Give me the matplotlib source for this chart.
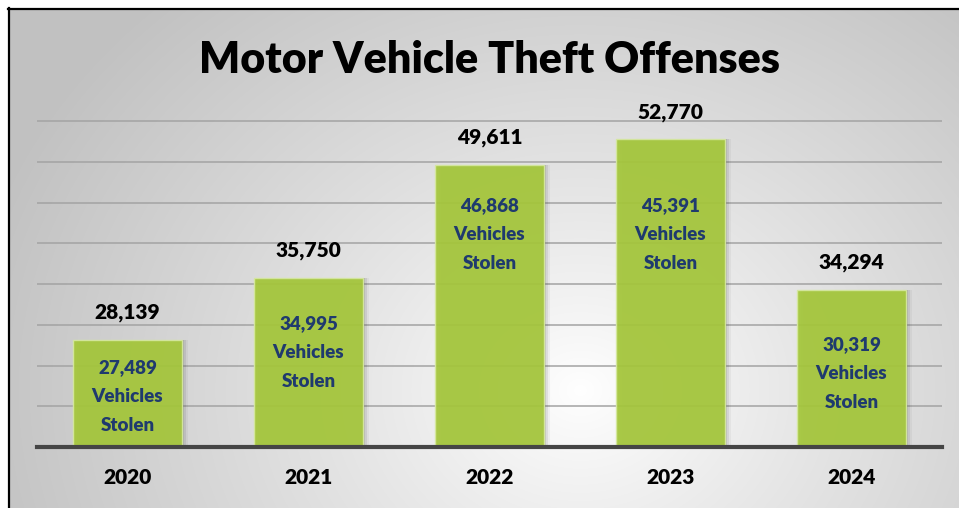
import numpy as np
import matplotlib
matplotlib.use("Agg")
import matplotlib.pyplot as plt
from matplotlib.lines import Line2D

# data
years = ["2020", "2021", "2022", "2023", "2024"]
offenses = [28139, 35750, 49611, 52770, 34294]
vehicles_stolen = [27489, 34995, 46868, 45391, 30319]

# layout (pixels on a 959x508 canvas)
W, H = 959, 508
INNER_OFFSET_PX = [57, 75, 70, 95, 84]   # bar top -> middle line of inner label
FONT = "Lato"
WEIGHT = "heavy"
GREEN = "#a6c83c"
NAVY = "#1f3a6e"

plt.rcParams["font.family"] = [FONT, "DejaVu Sans"]

fig = plt.figure(figsize=(W / 100, H / 100), dpi=100)

# background: radial grey-to-white gradient inside the frame
bg = fig.add_axes([8 / W, 0, (W - 8) / W, (H - 8) / H])
yy, xx = np.mgrid[8:H, 8:W]
r = np.sqrt(((xx - 580) / 1.0) ** 2 + ((yy - 390) / 0.85) ** 2)
t = np.clip(r / 620, 0, 1) ** 0.9
shade = 1.0 - 0.24 * t
bg.imshow(np.dstack([shade, shade, shade]), aspect="auto", interpolation="bilinear")
bg.axis("off")

# frame (left and top edges only, the rest is cropped)
fig.add_artist(Line2D([8.5 / W, 8.5 / W], [0, 1 - 8 / H], color="black", lw=1.6))
fig.add_artist(Line2D([8 / W, 1], [1 - 8.5 / H, 1 - 8.5 / H], color="black", lw=1.6))

# main axes
ymin, ymax = 15000, 57000
px_per_unit = 326 / 40000
ax_h = (ymax - ymin) * px_per_unit
ax = fig.add_axes([37 / W, (H - 447) / H, 905 / W, ax_h / H])
ax.set_facecolor("none")
ax.set_xlim(-0.5, len(years) - 0.5)
ax.set_ylim(ymin, ymax)

for yv in np.arange(20000, 55001, 5000):
    ax.axhline(yv, color="#a3a3a3", lw=1.1, zorder=1)

x = np.arange(len(years))
unit_x = len(years) / 905  # data units per pixel

# soft shadow to the right
for k, a in zip([2, 4, 6], [0.10, 0.07, 0.04]):
    ax.bar(x + k * unit_x, np.array(offenses) - ymin, bottom=ymin, width=0.6,
           color="black", alpha=a, lw=0, zorder=2)

ax.bar(x, np.array(offenses) - ymin, bottom=ymin, width=0.6, color=GREEN,
       edgecolor="#d6e8a0", lw=1.0, alpha=0.93, zorder=3)

ax.axhline(ymin, color="#454545", lw=3.0, zorder=4, clip_on=False)

for i, (v, s) in enumerate(zip(offenses, vehicles_stolen)):
    ax.annotate(f"{v:,}", (x[i], v), xytext=(0, 27 * 0.72), textcoords="offset points",
                ha="center", va="center", fontsize=15, fontweight=WEIGHT,
                color="black", zorder=5, annotation_clip=False)
    ax.annotate(f"{s:,}\nVehicles\nStolen", (x[i], v),
                xytext=(0, -INNER_OFFSET_PX[i] * 0.72), textcoords="offset points",
                ha="center", va="center", fontsize=13.5, fontweight=WEIGHT,
                color=NAVY, linespacing=1.85, zorder=5)

ax.set_xticks(x)
ax.set_xticklabels(years, fontsize=15, fontweight=WEIGHT, color="black")
ax.tick_params(axis="x", length=0, pad=15)
ax.set_yticks([])
for sp in ax.spines.values():
    sp.set_visible(False)

fig.text(489.5 / W, 1 - 60 / H, "Motor Vehicle Theft Offenses", ha="center", va="center",
         fontsize=31, fontweight=WEIGHT, color="black")

fig.savefig("out.png", dpi=100)
